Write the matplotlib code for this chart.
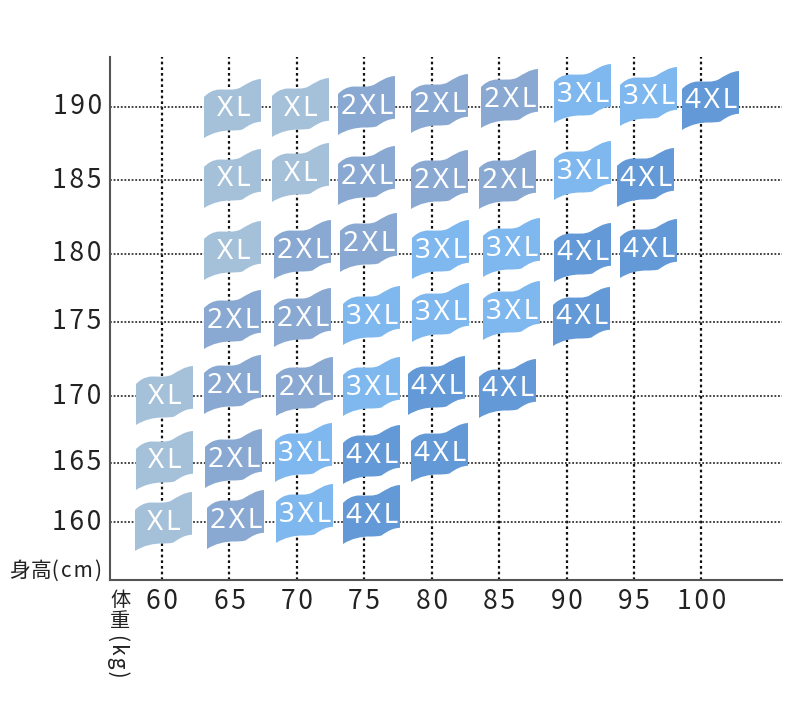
import numpy as np
import matplotlib
matplotlib.use('Agg')
import matplotlib.pyplot as plt
from matplotlib.path import Path
from matplotlib.transforms import offset_copy

plt.rcParams['font.family'] = ['Noto Sans CJK JP', 'DejaVu Sans']

# Tallas por fila: altura -> pesos y etiquetas
weights = [60, 65, 70, 75, 80, 85, 90, 95, 100]
heights = [160, 165, 170, 175, 180, 185, 190]

row_190 = [65, 70, 75, 80, 85, 90, 95, 100]
size_190 = ['XL', 'XL', '2XL', '2XL', '2XL', '3XL', '3XL', '4XL']
row_185 = [65, 70, 75, 80, 85, 90, 95]
size_185 = ['XL', 'XL', '2XL', '2XL', '2XL', '3XL', '4XL']
row_180 = [65, 70, 75, 80, 85, 90, 95]
size_180 = ['XL', '2XL', '2XL', '3XL', '3XL', '4XL', '4XL']
row_175 = [65, 70, 75, 80, 85, 90]
size_175 = ['2XL', '2XL', '3XL', '3XL', '3XL', '4XL']
row_170 = [60, 65, 70, 75, 80, 85]
size_170 = ['XL', '2XL', '2XL', '3XL', '4XL', '4XL']
row_165 = [60, 65, 70, 75, 80]
size_165 = ['XL', '2XL', '3XL', '4XL', '4XL']
row_160 = [60, 65, 70, 75]
size_160 = ['XL', '2XL', '3XL', '4XL']

# Desplazamiento de cada bandera respecto al cruce de la rejilla (px, y hacia abajo)
nudge_190 = [(3, 1), (3, 0.5), (1.5, -2), (7, -3.5), (10, -8.5), (15.5, -13.5), (14, -11), (9, -7)]
nudge_185 = [(3, -2.5), (3, -8), (1.5, -5.5), (7, -1), (8, -1), (15.5, -10), (11, -3.5)]
nudge_180 = [(3, -3.5), (5, -4.5), (4, -11.5), (8, -5), (11.5, -7), (15.5, -2), (14, -5.5)]
nudge_175 = [(3, -2.5), (5, -4.5), (7, -6.5), (8, -10), (11.5, -11.5), (14, -6)]
nudge_170 = [(2, -1.5), (3, -12), (7, -10), (7, -10), (4, -11.5), (7.5, -8.5)]
nudge_165 = [(2, -3.5), (4, -5), (6, -11), (7, -9), (7, -11)]
nudge_160 = [(1, -1), (6, -3.5), (7, -9), (7, -8)]

size_colors = {'XL': '#A5C1DA', '2XL': '#8AA9D2', '3XL': '#7FB8EE', '4XL': '#6399D6'}

# La escala vertical de la imagen no es regular
h_knots = [150, 160, 165, 170, 175, 180, 185, 190, 200]
px_knots = [580, 522, 463, 396, 321.5, 253.5, 180, 106.5, 57]


def forward(h):
    return np.interp(h, h_knots, -np.array(px_knots, dtype=float))


def inverse(p):
    return np.interp(p, -np.array(px_knots, dtype=float), h_knots)


flag = Path(
    [(-28.5, 11.5), (-25, 15), (-20, 19), (-12, 19), (-4, 19), (2, 18), (8, 21), (14, 24.5), (20, 29), (28.5, 29.5),
     (28.5, -13.3), (22, -13.5), (17, -16), (10, -21), (6, -22), (2, -22), (-2, -22), (-10, -22), (-20, -24), (-28.5, -29.5),
     (-28.5, 11.5), (-28.5, 11.5)],
    [Path.MOVETO, Path.CURVE4, Path.CURVE4, Path.CURVE4, Path.CURVE4, Path.CURVE4, Path.CURVE4,
     Path.CURVE4, Path.CURVE4, Path.CURVE4,
     Path.LINETO, Path.CURVE4, Path.CURVE4, Path.CURVE4, Path.CURVE4, Path.CURVE4, Path.CURVE4,
     Path.CURVE4, Path.CURVE4, Path.CURVE4,
     Path.LINETO, Path.CLOSEPOLY])

fig = plt.figure(figsize=(8, 7.15), dpi=100)
ax = fig.add_axes([110 / 800, 1 - 580 / 715, 672 / 800, 523 / 715])
ax.set_yscale('function', functions=(forward, inverse))
ax.set_xlim(56.14, 105.97)
ax.set_ylim(150, 200)

ax.set_xticks(weights)
ax.set_xticklabels(['\u200a'.join(str(w)) for w in weights], fontsize=19, color='#222222')
ax.set_yticks(heights)
ax.set_yticklabels(['\u200a'.join(str(h)) for h in heights], fontsize=19, color='#222222', va='center')
ax.minorticks_off()
ax.tick_params(axis='both', length=0, pad=6)

ax.grid(True, axis='x', color='#111111', linewidth=1.6, linestyle=(0, (1.2, 1.35)))
ax.grid(True, axis='y', color='#333333', linewidth=1.3, linestyle=(0, (1, 1)))
ax.set_axisbelow(True)
for side in ['top', 'right']:
    ax.spines[side].set_visible(False)
for side in ['left', 'bottom']:
    ax.spines[side].set_color('#555555')
    ax.spines[side].set_linewidth(1.5)

rows = [(190, row_190, size_190, nudge_190), (185, row_185, size_185, nudge_185),
        (180, row_180, size_180, nudge_180), (175, row_175, size_175, nudge_175),
        (170, row_170, size_170, nudge_170), (165, row_165, size_165, nudge_165),
        (160, row_160, size_160, nudge_160)]

for h, row, sizes, nudges in rows:
    for w, s, (dx, dy) in zip(row, sizes, nudges):
        tr = offset_copy(ax.transData, fig=fig, x=dx, y=-dy, units='dots')
        ax.plot([w], [h], marker=flag, ms=42.48, mfc=size_colors[s], mew=0, ls='none',
                transform=tr, zorder=3, clip_on=False)
        tr_text = offset_copy(ax.transData, fig=fig, x=dx + 1, y=-dy - 2, units='dots')
        ax.text(w, h, '\u200a'.join(s), transform=tr_text, ha='center', va='center', color='white',
                fontsize=20, family=['Noto Sans', 'DejaVu Sans'], zorder=4)

# Rotulos de los ejes
fig.text(56.5 / 800, 1 - 571 / 715, '身高(\u200ac\u200am\u200a)', ha='center', va='center', fontsize=15, color='#222222')
fig.text(120 / 800, 1 - 601 / 715, '体', ha='center', va='center', fontsize=14.5, color='#222222')
fig.text(120 / 800, 1 - 622 / 715, '重', ha='center', va='center', fontsize=14.5, color='#222222')
fig.text(118 / 800, 1 - 656 / 715, '(\u200ak\u200ag\u200a)', ha='center', va='center', rotation=-90, fontsize=15, color='#222222')

fig.savefig('out.png', dpi=100)
